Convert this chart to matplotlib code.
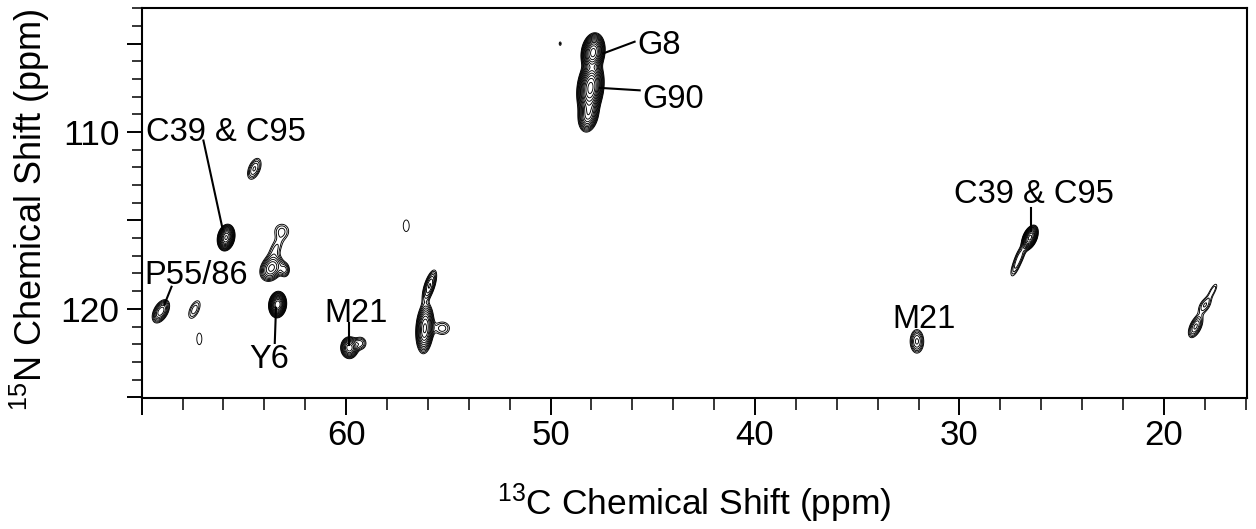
import numpy as np
import matplotlib
matplotlib.use("Agg")
import matplotlib.pyplot as plt
from matplotlib.ticker import MultipleLocator, FuncFormatter

plt.rcParams["font.family"] = ["Liberation Sans", "DejaVu Sans"]
plt.rcParams["mathtext.default"] = "regular"

# ---------------------------------------------------------------------------
# Peak list: 13C shift, 15N shift (ppm),
# line widths (ppm), shear of the peak (ppm 13C per ppm 15N), height
# ---------------------------------------------------------------------------
peak_c = [47.92, 48.05, 48.15, 49.53, 64.49, 65.87, 63.65, 63.00, 63.15, 63.45,
          63.35, 69.06, 67.42, 67.18, 59.84, 59.30, 57.06, 55.92, 56.15, 55.30,
          26.55, 27.00, 27.25, 32.08, 18.45, 18.00, 17.60]
peak_n = [105.50, 107.50, 109.00, 105.00, 112.08, 115.97, 117.70, 117.80, 115.60, 116.60,
          119.76, 120.14, 120.04, 121.70, 122.20, 121.95, 115.30, 118.70, 121.10, 121.10,
          115.97, 116.90, 117.60, 121.84, 121.00, 119.80, 118.95]
peak_wc = [0.22, 0.24, 0.22, 0.06, 0.20, 0.17, 0.28, 0.15, 0.30, 0.22,
           0.17, 0.20, 0.20, 0.17, 0.20, 0.20, 0.20, 0.15, 0.19, 0.30,
           0.15, 0.15, 0.14, 0.20, 0.18, 0.20, 0.13]
peak_wn = [0.42, 0.60, 0.45, 0.12, 0.40, 0.30, 0.38, 0.25, 0.35, 0.45,
           0.29, 0.35, 0.42, 0.45, 0.29, 0.25, 0.45, 0.50, 0.62, 0.30,
           0.29, 0.40, 0.45, 0.40, 0.38, 0.33, 0.35]
peak_tilt = [0.08, 0.08, 0.10, 0.0, 0.25, 0.10, 0.20, 0.0, 0.0, 0.30,
             0.05, 0.30, 0.30, 0.0, 0.0, 0.0, 0.0, 0.25, 0.05, 0.0,
             0.25, 0.30, 0.30, 0.0, 0.30, 0.35, 0.40]
peak_amp = [35, 45, 12, 1.4, 3, 25, 7, 3, 1.8, 1.8,
            30, 6, 2, 1.3, 10, 2.5, 1.3, 5, 15, 2.0,
            20, 2.0, 2.0, 4, 4, 2.2, 1.6]

# assignments: label, text anchor (13C, 15N), leader line start/end (or None)
label_text = ["G8", "G90", "C39 & C95", "P55/86", "Y6", "M21", "C39 & C95", "M21"]
label_c = [45.75, 45.49, 65.86, 67.35, 63.75, 59.50, 26.38, 31.74]
label_n = [104.93, 107.94, 109.81, 117.91, 122.65, 120.04, 113.31, 120.41]
label_ha = ["left", "left", "center", "center", "center", "center", "center", "center"]
line_c0 = [47.42, 47.60, 66.98, 68.54, 63.43, 59.87, 26.50, None]
line_n0 = [105.55, 107.50, 110.48, 118.75, 119.94, 120.80, 114.32, None]
line_c1 = [45.89, 45.64, 66.04, 68.89, 63.49, 59.87, 26.50, None]
line_n1 = [104.89, 107.64, 115.49, 119.76, 121.93, 122.03, 115.59, None]

# ---------------------------------------------------------------------------
fig = plt.figure(figsize=(12.56, 5.29), dpi=100)
ax = fig.add_axes([0.1128, 0.2471, 0.8798, 0.7372])

cs = np.linspace(15.8, 70.2, 2200)
ns = np.linspace(102.8, 125.3, 900)
C, N = np.meshgrid(cs, ns)
Z = np.zeros_like(C)
for c0, n0, wc, wn, t, a in zip(peak_c, peak_n, peak_wc, peak_wn, peak_tilt, peak_amp):
    u = (C - c0 - t * (N - n0)) / wc
    v = (N - n0) / wn
    Z += a * np.exp(-0.5 * (u * u + v * v))

levels = 1.0 * 1.3 ** np.arange(15)
ax.contour(C, N, Z, levels=levels, colors="black", linewidths=0.65)

for i, txt in enumerate(label_text):
    ax.text(label_c[i], label_n[i], txt, ha=label_ha[i], va="center_baseline",
            fontsize=23.5)
    if line_c0[i] is not None:
        ax.plot([line_c0[i], line_c1[i]], [line_n0[i], line_n1[i]],
                color="black", linewidth=1.5)

ax.set_xlim(70, 15.95)
ax.set_ylim(125.06, 103)

ax.xaxis.set_major_locator(MultipleLocator(10))
ax.xaxis.set_minor_locator(MultipleLocator(2))
ax.xaxis.set_major_formatter(FuncFormatter(lambda v, p: "" if v > 65 else f"{v:.0f}"))
ax.yaxis.set_major_locator(MultipleLocator(5))
ax.yaxis.set_minor_locator(MultipleLocator(1))
ax.yaxis.set_major_formatter(FuncFormatter(lambda v, p: f"{v:.0f}" if round(v) % 10 == 0 else ""))

ax.tick_params(axis="x", which="major", direction="out", length=12, width=1.4,
               labelsize=25, pad=3)
ax.tick_params(axis="x", which="minor", direction="out", length=8.5, width=1.1)
ax.tick_params(axis="y", which="major", direction="out", length=11, width=1.4,
               labelsize=25.5, pad=5)
ax.tick_params(axis="y", which="minor", direction="out", length=7.5, width=1.1)
for sp in ax.spines.values():
    sp.set_linewidth(1.5)

fig.text(0.5526, 1 - 515 / 529, r"$^{13}$C Chemical Shift (ppm)", ha="center",
         va="baseline", fontsize=25.5)
fig.text(42 / 1256, 1 - 210 / 529, r"$^{15}$N Chemical Shift (ppm)", ha="center",
         va="baseline", rotation=90, rotation_mode="anchor", fontsize=26)

fig.savefig("out.png", dpi=100)
